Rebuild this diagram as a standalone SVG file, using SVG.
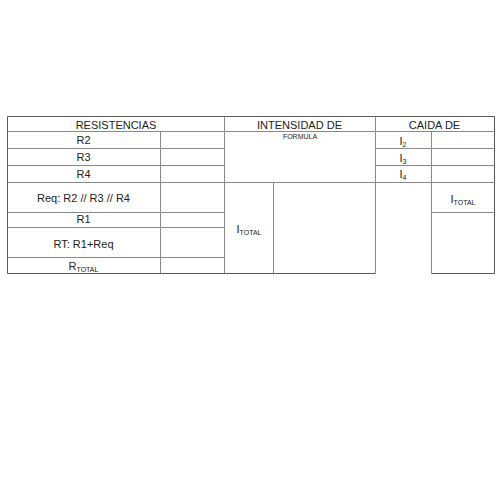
<svg xmlns="http://www.w3.org/2000/svg" width="500" height="500" viewBox="0 0 500 500">
<style>
.bg{fill:#ffffff}
.o{stroke:#5a5a5a;stroke-width:1;fill:none}
.i{stroke:#8a8a8a;stroke-width:1;fill:none}
text{font-family:"Liberation Sans",Arial,sans-serif;fill:#222;text-anchor:middle}
.t{font-size:11px}
.s{font-size:7px}
.f{font-size:7px}
</style>
<rect class="bg" x="0" y="0" width="500" height="500"/>
<g id="grid">
<path class="o" d="M7.5 116.5H494.5M7.5 116.5V273.5M494.5 116.5V273.5M7.5 273.5H375.5M431.5 273.5H494.5"/>
<path class="i" d="M7.5 131.5H494.5M224.5 116.5V273.5M375.5 116.5V273.5"/>
<path class="i" d="M7.5 148.5H224.5M7.5 165.5H224.5M7.5 182.5H224.5M7.5 212.5H224.5M7.5 227.5H224.5M7.5 257.5H224.5M160.5 131.5V273.5"/>
<path class="i" d="M224.5 182.5H375.5M273.5 182.5V273.5"/>
<path class="i" d="M375.5 148.5H494.5M375.5 165.5H494.5M375.5 182.5H494.5M431.5 131.5V273.5M431.5 212.5H494.5"/>
</g>
<g id="headers">
<text class="t" x="116" y="128.5">RESISTENCIAS</text>
<text class="t" x="299.5" y="128.5">INTENSIDAD DE</text>
<text class="t" x="434.5" y="128.5">CAIDA DE</text>
</g>
<g id="resistencias">
<text class="t" x="83.5" y="144">R2</text>
<text class="t" x="83.5" y="161">R3</text>
<text class="t" x="83.5" y="178">R4</text>
<text class="t" x="83.5" y="202">Req: R2 // R3 // R4</text>
<text class="t" x="83.5" y="223">R1</text>
<text class="t" x="83.5" y="248">RT: R1+Req</text>
<text class="t" x="83.5" y="270">R<tspan class="s" dy="1.5">TOTAL</tspan></text>
</g>
<g id="intensidad">
<text class="f" x="300" y="138.5">FORMULA</text>
<text class="t" x="249" y="233">I<tspan class="s" dy="1.5">TOTAL</tspan></text>
</g>
<g id="caida">
<text class="t" x="403" y="145">I<tspan class="s" dy="2">2</tspan></text>
<text class="t" x="403" y="161.5">I<tspan class="s" dy="2">3</tspan></text>
<text class="t" x="403" y="178">I<tspan class="s" dy="2">4</tspan></text>
<text class="t" x="463" y="203">I<tspan class="s" dy="1.5">TOTAL</tspan></text>
</g>
</svg>
